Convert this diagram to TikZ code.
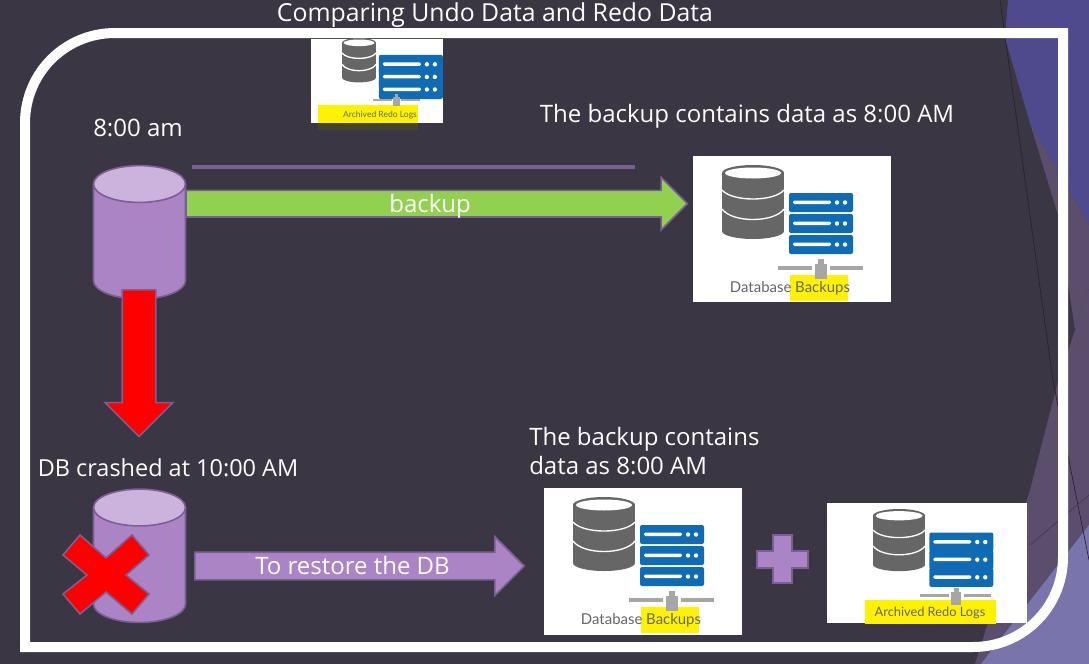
\documentclass[tikz,border=0pt]{standalone}
\usepackage{fontspec}
\setmainfont{Open Sans}
\newfontfamily\iconfont{Lato}
\usetikzlibrary{shapes.geometric,shapes.arrows}
\definecolor{slatebg}{HTML}{3A3644}
\definecolor{bandblue}{HTML}{4F4A8E}
\definecolor{bandmauve}{HTML}{5B4E6D}
\definecolor{bandlilac}{HTML}{7A74AC}
\definecolor{dbfill}{HTML}{AA84C5}
\definecolor{dbtopfill}{HTML}{CBB3DE}
\definecolor{edgepurple}{HTML}{7A5F92}
\definecolor{arrowgreen}{HTML}{92D050}
\definecolor{iconblue}{HTML}{0F6CB4}
\begin{document}
\begin{tikzpicture}[
    x=0.75pt, y=-0.75pt,
    headline/.style={text=white, font=\fontsize{18}{21.75}\selectfont, inner sep=0pt},
    database/.style={cylinder, shape border rotate=90, shape aspect=.46, draw=edgepurple,
        line width=1.2pt, minimum width=69pt, minimum height=100pt, inner sep=30pt,
        cylinder uses custom fill, cylinder body fill=dbfill, cylinder end fill=dbtopfill},
    blockarrow/.style={single arrow, draw=edgepurple, line width=1.2pt, text=white,
        font=\fontsize{18}{21}\selectfont, text height=15pt, text depth=2pt, inner xsep=0pt,
        anchor=tail},
    iconbox/.style={rectangle, fill=white, inner sep=0pt, anchor=north west},
    marker/.style={rectangle, fill=yellow, inner sep=0pt, anchor=north west},
    iconlabel/.style={text=black!60, inner sep=0pt},
    serverrow/.pic={
        \fill[iconblue, rounded corners=1.5pt] (0,0) rectangle (64,19);
        \fill[white, rounded corners=1pt] (4,7.5) rectangle (42,11);
        \fill[white] (48,9.5) circle [radius=2.2];
        \fill[white] (56,9.5) circle [radius=2.2];
    },
    dbicon/.pic={
        \fill[black!60] (0,8) rectangle (62,66);
        \fill[black!60] (31,66) ellipse [x radius=31, y radius=8];
        \fill[black!60] (31,8) ellipse [x radius=31, y radius=8];
        \fill[white] (31,8) ellipse [x radius=28, y radius=5.5];
        \draw[white, line width=1pt] (0,25) .. controls (10,37) and (52,37) .. (62,25);
        \draw[white, line width=1pt] (0,44) .. controls (10,58) and (52,58) .. (62,44);
        \pic at (67,28) {serverrow};
        \pic at (67,49) {serverrow};
        \pic at (67,70) {serverrow};
        \fill[black!35] (56,101) rectangle (90,105);
        \fill[black!35] (108,101) rectangle (141,105);
        \fill[black!35] (93,99) rectangle (105,114);
        \fill[black!35] (96,94) rectangle (102,99);
    }
]
\useasboundingbox (0,0) rectangle (1089,664);
\fill[slatebg] (0,0) rectangle (1089,664);
\fill[bandblue] (1008,0) -- (1089,0) -- (1089,225) -- (1030,123) -- (1005,38) -- cycle;
\fill[bandmauve] (1030,123) -- (1089,225) -- (1089,288) -- (1075,330) -- (1058,215) -- cycle;
\fill[bandmauve] (1089,288) -- (1089,530) -- (981,664) -- (975,664) -- (1030,490) -- (1058,381) -- cycle;
\fill[bandlilac] (981,664) -- (1089,525) -- (1089,664) -- cycle;
\draw[black!35!slatebg, line width=0.5pt] (1000,0) -- (1053,381) -- (1089,560);
\draw[black!25!bandmauve, line width=0.5pt] (1030,545) -- (1089,495);

\node (Title) [headline, font=\fontsize{18.6}{22}\selectfont] at (495,15) {Comparing Undo Data and Redo Data};
\node (TimeTop) [headline] at (138,128) {8:00 am};
\node (NoteTop) [headline] at (747,116) {The backup contains data as 8:00 AM};
\node (Crashed) [headline, font=\fontsize{17.6}{21}\selectfont] at (168,468) {DB crashed at 10:00 AM};
\node (NoteLow) [headline, align=left, anchor=north west] at (529,427) {The backup contains\\data as 8:00 AM};

\fill[olive!35!black] (318,122) rectangle (418,130);
\node (BoxSmall) [iconbox, minimum width=99pt, minimum height=62.5pt] at (311,39) {};
\node (MarkSmall) [marker, minimum width=75pt, minimum height=13pt] at (318,105) {};
\pic[xscale=.55, yscale=.6] at (342,38) {dbicon};
\node (TextSmall) [iconlabel, font=\iconfont\fontsize{6.4}{8}\selectfont] at (380,115) {Archived Redo Logs};

\node (BoxBackup) [iconbox, minimum width=148.5pt, minimum height=109.5pt] at (693,156) {};
\node (MarkBackup) [marker, minimum width=43pt, minimum height=19pt] at (790,275) {};
\pic at (722,165) {dbicon};
\node (TextBackup) [iconlabel, font=\iconfont\fontsize{11.2}{13}\selectfont] at (790,288) {Database Backups};

\node (BoxRestore) [iconbox, minimum width=148.5pt, minimum height=110pt] at (544,488) {};
\node (MarkRestore) [marker, minimum width=43pt, minimum height=19pt] at (641,607) {};
\pic at (573,497) {dbicon};
\node (TextRestore) [iconlabel, font=\iconfont\fontsize{11.2}{13}\selectfont] at (641,620) {Database Backups};

\node (BoxRedo) [iconbox, minimum width=150pt, minimum height=89.5pt] at (827,503) {};
\node (MarkRedo) [marker, minimum width=98pt, minimum height=17.5pt] at (865,600) {};
\pic[scale=.84] at (873,509) {dbicon};
\node (TextRedo) [iconlabel, font=\iconfont\fontsize{9.6}{12}\selectfont] at (930,613) {Archived Redo Logs};

\draw[edgepurple, line width=2.6pt] (192,167) -- (635,167);

\node (DbTop) [database] at (139.5,251) {};
\node (DbLow) [database] at (139.5,574.5) {};

\node (BackupArrow) [blockarrow, fill=arrowgreen, minimum height=376pt, minimum width=38.25pt,
    single arrow head extend=9.75pt, inner ysep=.9pt] at ([xshift=-.75pt,yshift=35.5pt]DbTop.east) {backup};
\node (CrashArrow) [blockarrow, fill=red, rotate=-90, minimum height=110pt, minimum width=49.5pt,
    single arrow head extend=12.75pt, text height=0pt, text depth=0pt, inner ysep=12pt] at (139,289) {};
\node (RestoreArrow) [blockarrow, fill=dbfill, minimum height=247pt, minimum width=42.75pt,
    single arrow head extend=11.6pt, inner ysep=1.25pt] at (194,566) {To restore the DB};

\filldraw[fill=red, draw=edgepurple, line width=1.2pt] (63,555) -- (80,535) -- (106,558)
    -- (132,535) -- (149,555) -- (126,575) -- (149,594) -- (132,614) -- (106,592)
    -- (80,614) -- (63,594) -- (87,575) -- cycle;
\filldraw[fill=dbfill, draw=edgepurple, line width=1.2pt] (757,551) -- (773,551) -- (773,535)
    -- (792,535) -- (792,551) -- (808,551) -- (808,568) -- (792,568) -- (792,583)
    -- (773,583) -- (773,568) -- (757,568) -- cycle;

\draw[white, line width=7.5pt] (25,652) -- (25,123) .. controls (25,73) and (65,33) .. (115,33)
    -- (1063,33) -- (1063,557) .. controls (1063,607) and (1023,647) .. (973,647) -- (21,647);
\end{tikzpicture}
\end{document}
